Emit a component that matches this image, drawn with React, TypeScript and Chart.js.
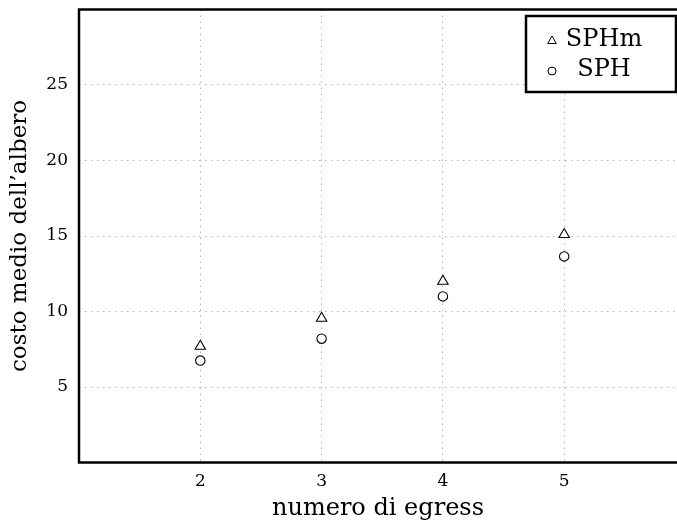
import React, { useEffect, useRef } from 'react';
import { Chart, registerables } from 'chart.js';

Chart.register(...registerables);

const egress = [2, 3, 4, 5];
const sphmCost = [7.7, 9.55, 12.0, 15.1];
const sphCost = [6.75, 8.2, 11.0, 13.65];
const xTickValues = [2, 3, 4, 5];
const yTickValues = [5, 10, 15, 20, 25];
const seriesLabels = ['SPHm', 'SPH'];
const xTitle = 'numero di egress';
const yTitle = 'costo medio dell\u2019albero';

const FONT = "'DejaVu Serif', serif";

const framePlugin = {
  id: 'frame',
  afterDatasetsDraw(chart: any) {
    const { ctx, chartArea } = chart;
    ctx.save();
    ctx.strokeStyle = '#000';
    ctx.lineWidth = 2.5;
    ctx.beginPath();
    ctx.moveTo(chart.width + 5, chartArea.top);
    ctx.lineTo(chartArea.left, chartArea.top);
    ctx.lineTo(chartArea.left, chartArea.bottom);
    ctx.lineTo(chart.width + 5, chartArea.bottom);
    ctx.stroke();
    ctx.restore();
  },
};

const legendPlugin = {
  id: 'boxLegend',
  afterDraw(chart: any) {
    const { ctx } = chart;
    const x0 = 526, y0 = 16, w = 150, h = 76;
    ctx.save();
    ctx.fillStyle = '#fff';
    ctx.fillRect(x0, y0, w, h);
    ctx.strokeStyle = '#000';
    ctx.lineWidth = 2.5;
    ctx.strokeRect(x0, y0, w, h);
    ctx.lineWidth = 1;
    const mx = 552;
    let my = 41;
    const r = 5;
    ctx.beginPath();
    ctx.moveTo(mx, my - r);
    ctx.lineTo(mx + r * 0.866, my + r * 0.5);
    ctx.lineTo(mx - r * 0.866, my + r * 0.5);
    ctx.closePath();
    ctx.stroke();
    my = 71;
    ctx.beginPath();
    ctx.arc(mx, my, 4, 0, Math.PI * 2);
    ctx.stroke();
    ctx.fillStyle = '#000';
    ctx.font = `24px ${FONT}`;
    ctx.textAlign = 'center';
    ctx.textBaseline = 'middle';
    const labels = chart.data.datasets.map((d: any) => d.label);
    ctx.fillText(labels[0], 604, 40);
    ctx.fillText(labels[1], 604, 70);
    ctx.restore();
  },
};

export default function App() {
  const ref = useRef<HTMLCanvasElement>(null);
  useEffect(() => {
    if (!ref.current) return;
    const gridColor = '#b4b4b4';
    const chart = new Chart(ref.current, {
      type: 'scatter',
      data: {
        datasets: [
          {
            label: seriesLabels[0],
            data: egress.map((x, i) => ({ x, y: sphmCost[i] })),
            pointStyle: 'triangle',
            pointRadius: 6,
            pointBorderWidth: 1.1,
            borderColor: '#000',
            backgroundColor: '#fff',
          },
          {
            label: seriesLabels[1],
            data: egress.map((x, i) => ({ x, y: sphCost[i] })),
            pointStyle: 'circle',
            pointRadius: 4.7,
            pointBorderWidth: 1.1,
            borderColor: '#000',
            backgroundColor: '#fff',
          },
        ],
      },
      options: {
        responsive: false,
        animation: false,
        layout: { autoPadding: false, padding: { top: 9.5, left: 0, right: 0, bottom: 0 } },
        plugins: { legend: { display: false }, tooltip: { enabled: false } },
        scales: {
          x: {
            type: 'linear',
            min: 1,
            max: 5.93,
            afterFit: (s: any) => {
              s.height = 58.5;
              s.paddingLeft = 0;
              s.paddingRight = 0;
              s.paddingTop = 0;
              s.paddingBottom = 0;
            },
            afterBuildTicks: (s: any) => { s.ticks = xTickValues.map((v) => ({ value: v })); },
            grid: { color: gridColor, lineWidth: 1, drawTicks: false },
            border: { display: false, dash: [1.5, 4.5] },
            ticks: {
              color: '#000',
              padding: 9,
              font: { family: FONT, size: 17 },
              callback: (v: any) => String(v),
            },
            title: {
              display: true,
              text: xTitle,
              color: '#000',
              font: { family: FONT, size: 24, lineHeight: 1 },
              padding: { top: 0, bottom: 0 },
            },
          },
          y: {
            type: 'linear',
            min: 0,
            max: 30,
            afterFit: (s: any) => {
              s.width = 79;
              s.paddingLeft = 0;
              s.paddingRight = 0;
              s.paddingTop = 0;
              s.paddingBottom = 0;
            },
            afterBuildTicks: (s: any) => { s.ticks = yTickValues.map((v) => ({ value: v })); },
            grid: { color: gridColor, lineWidth: 1, drawTicks: false },
            border: { display: false, dash: [1.5, 4.5] },
            ticks: {
              color: '#000',
              padding: 11,
              font: { family: FONT, size: 17 },
              callback: (v: any) => String(v),
            },
            title: {
              display: true,
              text: yTitle,
              color: '#000',
              font: { family: FONT, size: 23, lineHeight: 1 },
              padding: { top: 9, bottom: 0 },
            },
          },
        },
      },
      plugins: [framePlugin, legendPlugin],
    });
    return () => chart.destroy();
  }, []);
  return (
    <div style={{ position: 'absolute', left: 0, top: 0, width: 677, height: 521, background: '#fff' }}>
      <canvas ref={ref} width={677} height={521} />
    </div>
  );
}
